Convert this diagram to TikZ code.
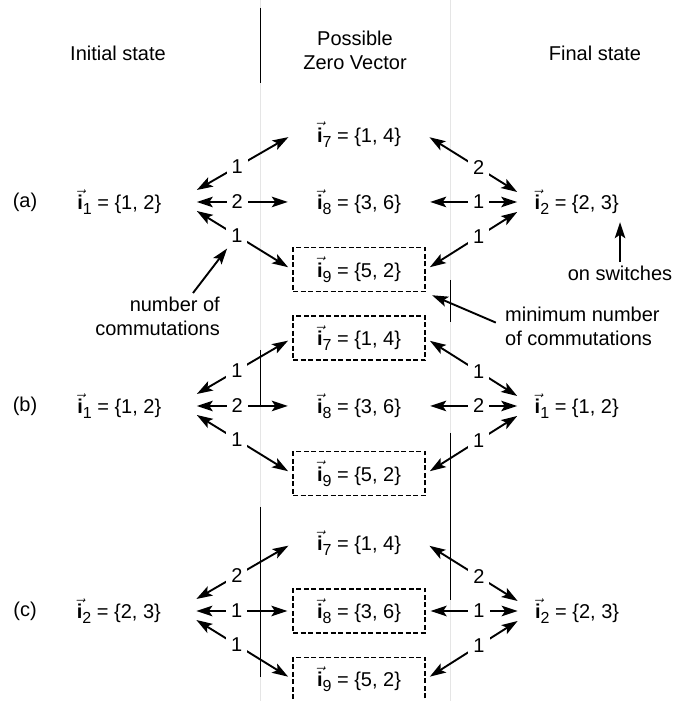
\documentclass[tikz,border=0pt]{standalone}
\usepackage{amsmath,amssymb}
\usepackage{fontspec}
\setmainfont{Liberation Sans}
\usepackage{xcolor}
\usetikzlibrary{arrows.meta}
\usetikzlibrary{positioning}

\newcommand{\ivec}[1]{$\vec{\text{\bfseries i}}$\raisebox{-5pt}{\fontsize{16}{16}\selectfont #1}}

\begin{document}
\begin{tikzpicture}[
  x=1pt, y=1pt,
  font=\fontsize{20}{24}\selectfont,
  zvec/.style={minimum width=132pt, minimum height=44pt, inner sep=0pt},
  best/.style={zvec, draw, line width=1.3pt, dash pattern=on 5pt off 2.5pt},
  dbl/.style={{Stealth[length=16pt,width=10.5pt,inset=3.5pt]}-{Stealth[length=16pt,width=10.5pt,inset=3.5pt]}, line width=1.9pt, shorten >=5pt},
  ptr/.style={-{Stealth[length=16pt,width=10.5pt,inset=3.5pt]}, line width=1.9pt},
  num/.style={fill=white, inner sep=5pt, pos=.42},
  scan/.style={line width=0.8pt},
  faint/.style={gray!20, line width=0.6pt}
]
\useasboundingbox (0,0) rectangle (690,701);

% scan lines
\draw[faint] (260,701) -- (260,0);
\draw[faint] (450,701) -- (450,0);
\draw[scan] (260,693) -- (260,618);
\draw[scan] (260,351) -- (260,296);
\draw[scan] (260,194) -- (260,24);
\draw[scan] (450,421) -- (450,379);
\draw[scan] (450,268) -- (450,101);

% titles
\node (tinit) at (118,648) {Initial state};
\node[align=center] (tzero) at (355,651) {Possible\\Zero Vector};
\node (tfinal) at (595,648) {Final state};

% (a)
\node[zvec] (a8) at (359,499) {\ivec{8} = \{3, 6\}};
\node[zvec, above=23pt of a8] (a7) {\ivec{7} = \{1, 4\}};
\node[best, below=23pt of a8] (a9) {\ivec{9} = \{5, 2\}};
\node[left=128pt of a8] (aL) {\ivec{1} = \{1, 2\}};
\node[right=106pt of a8] (aR) {\ivec{2} = \{2, 3\}};
\node[left=33pt of aL] (rowa) {(a)};
\coordinate[right=32pt of aL] (aw);
\coordinate[left=14pt of aR] (ae);

\draw[dbl] ([yshift=12pt]aw) -- node[num] (al1) {1} (a7.west);
\draw[dbl] (aw) -- node[num] (al2) {2} (a8.west);
\draw[dbl] ([yshift=-9pt]aw) -- node[num] (al3) {1} (a9.west);
\draw[dbl] ([yshift=10pt]ae) -- node[num] (ar1) {2} (a7.east);
\draw[dbl] (ae) -- node[num] (ar2) {1} (a8.east);
\draw[dbl] ([yshift=-10pt]ae) -- node[num] (ar3) {1} (a9.east);

% (b)
\node[zvec] (b8) at (359,295) {\ivec{8} = \{3, 6\}};
\node[best, above=23pt of b8] (b7) {\ivec{7} = \{1, 4\}};
\node[best, below=23pt of b8] (b9) {\ivec{9} = \{5, 2\}};
\node[left=128pt of b8] (bL) {\ivec{1} = \{1, 2\}};
\node[right=106pt of b8] (bR) {\ivec{1} = \{1, 2\}};
\node[left=33pt of bL] (rowb) {(b)};
\coordinate[right=32pt of bL] (bw);
\coordinate[left=14pt of bR] (be);

\draw[dbl] ([yshift=12pt]bw) -- node[num] (bl1) {1} (b7.west);
\draw[dbl] (bw) -- node[num] (bl2) {2} (b8.west);
\draw[dbl] ([yshift=-9pt]bw) -- node[num] (bl3) {1} (b9.west);
\draw[dbl] ([yshift=10pt]be) -- node[num] (br1) {1} (b7.east);
\draw[dbl] (be) -- node[num] (br2) {2} (b8.east);
\draw[dbl] ([yshift=-10pt]be) -- node[num] (br3) {1} (b9.east);

% (c)
\node[best] (c8) at (359,90) {\ivec{8} = \{3, 6\}};
\node[zvec, above=23pt of c8] (c7) {\ivec{7} = \{1, 4\}};
\node[best, below=23pt of c8] (c9) {\ivec{9} = \{5, 2\}};
\node[left=128pt of c8] (cL) {\ivec{2} = \{2, 3\}};
\node[right=106pt of c8] (cR) {\ivec{2} = \{2, 3\}};
\node[left=33pt of cL] (rowc) {(c)};
\coordinate[right=32pt of cL] (cw);
\coordinate[left=14pt of cR] (ce);

\draw[dbl] ([yshift=12pt]cw) -- node[num] (cl1) {2} (c7.west);
\draw[dbl] (cw) -- node[num] (cl2) {1} (c8.west);
\draw[dbl] ([yshift=-9pt]cw) -- node[num] (cl3) {1} (c9.west);
\draw[dbl] ([yshift=10pt]ce) -- node[num] (cr1) {2} (c7.east);
\draw[dbl] (ce) -- node[num] (cr2) {1} (c8.east);
\draw[dbl] ([yshift=-10pt]ce) -- node[num] (cr3) {1} (c9.east);

% notes
\node[align=right, anchor=north east, inner sep=0pt] (ncom) at (220,404) {number of\\commutations};
\draw[ptr] ([xshift=-27pt,yshift=4pt]ncom.north east) -- (al3);
\node[align=left, anchor=north west, inner sep=0pt] (nmin) at (505,394) {minimum number\\of commutations};
\draw[ptr, shorten <=10pt, shorten >=7pt] (nmin.west) -- (a9.south east);
\node (nsw) at (620,428) {on switches};
\draw[ptr, shorten >=4pt] (nsw) -- (nsw |- aR.south);
\end{tikzpicture}
\end{document}
